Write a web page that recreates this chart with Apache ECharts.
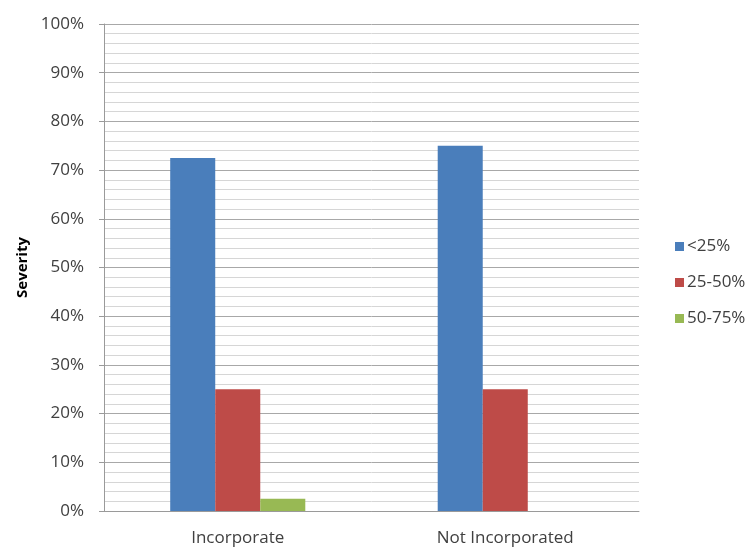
<!DOCTYPE html>
<html>
<head>
<meta charset="utf-8">
<script src="https://cdn.jsdelivr.net/npm/echarts@6/dist/echarts.min.js"></script>
<style>
  html, body { margin: 0; padding: 0; background: #ffffff; }
  #chart { width: 756px; height: 551px; }
</style>
</head>
<body>
<div id="chart"></div>
<script>
// Groups on the category axis
const categories = ['Incorporate', 'Not Incorporated'];
// Severity bands (legend entries)
const seriesNames = ['<25%', '25-50%', '50-75%'];
// Share of cases in each band, percent
const lessThan25 = [72.5, 75];
const from25to50 = [25, 25];
const from50to75 = [2.5, null];
// Y axis range and step (percent)
const yMin = 0;
const yMax = 100;
const yStep = 10;

const colors = ['#4a7ebb', '#be4b48', '#98b954'];
const textColor = '#404040';
const fontFamily = '"Open Sans", "Liberation Sans", sans-serif';

const chart = echarts.init(document.getElementById('chart'), null, { renderer: 'canvas' });

const seriesData = [lessThan25, from25to50, from50to75];

chart.setOption({
  animation: false,
  backgroundColor: '#ffffff',
  color: colors,
  grid: { left: 104, right: 117, top: 24, bottom: 40, containLabel: false },
  legend: {
    orient: 'vertical',
    left: 670,
    top: 233,
    itemWidth: 9,
    itemHeight: 9,
    itemGap: 19,
    icon: 'rect',
    textStyle: { color: textColor, fontSize: 17, fontFamily: fontFamily, padding: [0, 0, 0, -2] },
    data: seriesNames
  },
  xAxis: {
    type: 'category',
    data: categories,
    axisLine: { lineStyle: { color: '#9a9a9a', width: 1 } },
    axisTick: { show: false },
    axisLabel: { color: textColor, fontSize: 17, fontFamily: fontFamily, margin: 19 },
    splitLine: { show: false }
  },
  yAxis: {
    type: 'value',
    min: yMin,
    max: yMax,
    interval: yStep,
    name: 'Severity',
    nameLocation: 'middle',
    nameGap: 73,
    nameRotate: 90,
    nameTextStyle: { color: '#000000', fontSize: 15, fontWeight: 'bold', fontFamily: fontFamily },
    axisLine: { show: true, lineStyle: { color: '#9a9a9a', width: 1 } },
    axisTick: { show: true, length: 5, lineStyle: { color: '#9a9a9a' } },
    axisLabel: {
      color: textColor, fontSize: 17, fontFamily: fontFamily, margin: 20,
      formatter: v => v + '%'
    },
    splitLine: { show: true, lineStyle: { color: '#a8a8a8', width: 1 } },
    minorTick: { show: false, splitNumber: 5 },
    minorSplitLine: { show: true, lineStyle: { color: '#d6d6d6', width: 1 } }
  },
  series: seriesNames.map((name, i) => ({
    name: name,
    type: 'bar',
    data: seriesData[i],
    barGap: '0%',
    barCategoryGap: '49.5%',
    itemStyle: { color: colors[i] }
  }))
});
</script>
</body>
</html>
